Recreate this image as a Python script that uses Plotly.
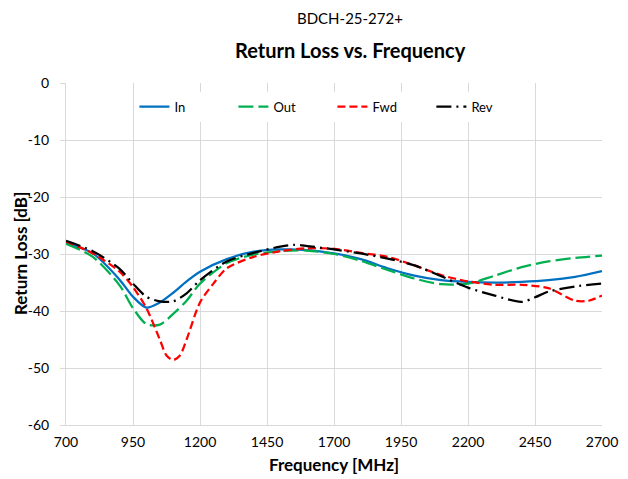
import plotly.graph_objects as go

# Frequency [MHz] and Return Loss [dB] per port
freq_in = [700, 800, 900, 950, 1000, 1050, 1100, 1150, 1200, 1300, 1400, 1500, 1600, 1700,
           1800, 1900, 2000, 2100, 2200, 2300, 2400, 2500, 2600, 2700]
rl_in = [-28.0, -29.9, -34.5, -37.5, -39.4, -38.5, -36.8, -34.8, -33.1, -30.9, -29.6, -29.2,
         -29.3, -29.9, -30.9, -32.5, -33.8, -34.6, -34.9, -35.0, -34.9, -34.6, -34.0, -33.0]

freq_out = [700, 800, 900, 950, 1000, 1050, 1100, 1150, 1200, 1300, 1400, 1500, 1600, 1700,
            1800, 1900, 2000, 2100, 2200, 2300, 2400, 2500, 2600, 2700]
rl_out = [-28.2, -30.5, -35.5, -39.5, -42.3, -42.4, -40.5, -38.2, -35.2, -31.6, -30.1, -29.5,
          -29.4, -30.0, -31.2, -32.8, -34.3, -35.3, -35.2, -33.8, -32.3, -31.3, -30.7, -30.3]

freq_fwd = [700, 800, 900, 950, 1000, 1050, 1075, 1100, 1125, 1150, 1200, 1250, 1300, 1400,
            1500, 1600, 1700, 1800, 1900, 2000, 2100, 2200, 2300, 2400, 2500, 2600, 2650, 2700]
rl_fwd = [-27.8, -29.9, -33.1, -35.8, -39.5, -45.0, -47.8, -48.6, -47.8, -45.0, -38.5, -35.2,
          -32.5, -30.5, -29.5, -29.0, -29.1, -29.8, -30.5, -32.0, -33.7, -34.8, -35.4, -35.4,
          -36.0, -38.2, -38.2, -37.3]

freq_rev = [700, 800, 900, 950, 1000, 1050, 1100, 1150, 1200, 1300, 1400, 1500, 1550, 1600,
            1700, 1800, 1900, 2000, 2100, 2200, 2300, 2400, 2450, 2500, 2600, 2700]
rl_rev = [-27.7, -29.5, -32.6, -35.2, -37.5, -38.3, -38.3, -36.9, -34.6, -31.3, -29.8, -28.7,
          -28.4, -28.6, -29.2, -29.9, -30.8, -32.0, -33.9, -35.9, -37.3, -38.4, -37.6, -36.6,
          -35.7, -35.2]

x_ticks = [700, 950, 1200, 1450, 1700, 1950, 2200, 2450, 2700]
y_ticks = [0, -10, -20, -30, -40, -50, -60]

FONT = "Lato"
fig = go.Figure()
series = [
    ("In", freq_in, rl_in, "#0070C0", "solid"),
    ("Out", freq_out, rl_out, "#00B050", "15px,5px"),
    ("Fwd", freq_fwd, rl_fwd, "#FF0000", "8px,4px"),
    ("Rev", freq_rev, rl_rev, "#000000", "15px,5px,2px,5px"),
]
for name, f, v, c, d in series:
    fig.add_trace(go.Scatter(x=f, y=v, name=name, mode="lines",
                             line=dict(color=c, width=2.25, dash=d, shape="spline", smoothing=0.8)))

fig.update_layout(
    width=628, height=479,
    margin=dict(l=66, r=26, t=83, b=54),
    paper_bgcolor="white", plot_bgcolor="white",
    font=dict(family=FONT, size=13, color="#000000"),
    showlegend=True,
    legend=dict(orientation="h", x=0.497, xanchor="center", y=0.975, yanchor="top",
                bgcolor="white", font=dict(size=13, family=FONT),
                entrywidth=54, entrywidthmode="pixels", itemwidth=30,
                traceorder="normal"),
)
fig.add_annotation(text="BDCH-25-272+", xref="paper", yref="paper", x=0.53, y=1,
                   yanchor="middle", yshift=65, showarrow=False, font=dict(size=15, family=FONT))
fig.add_annotation(text="<b>Return Loss vs. Frequency</b>", xref="paper", yref="paper", x=0.53, y=1,
                   yanchor="middle", yshift=33, showarrow=False, font=dict(size=20, family=FONT))
fig.add_annotation(text="<b>Return Loss [dB]</b>", xref="paper", yref="paper", x=0, y=0.5,
                   xanchor="center", yanchor="middle", xshift=-46, textangle=-90,
                   showarrow=False, font=dict(size=17, family=FONT))

fig.update_xaxes(range=[700, 2700], tickvals=x_ticks, ticktext=[str(t) for t in x_ticks],
                 automargin=False, ticklabelstandoff=4,
                 showgrid=True, gridcolor="#D9D9D9", gridwidth=1, zeroline=False,
                 showline=True, linecolor="#D9D9D9", ticks="", mirror=False,
                 title=dict(text="<b>Frequency [MHz]</b>", font=dict(size=17, family=FONT), standoff=10),
                 tickfont=dict(size=14, color="#000000"))
fig.update_yaxes(range=[-60, 0], tickvals=y_ticks, ticktext=[str(t) for t in y_ticks],
                 automargin=False, ticklabelstandoff=8,
                 showgrid=True, gridcolor="#D9D9D9", gridwidth=1, zeroline=False,
                 showline=True, linecolor="#D9D9D9", ticks="outside", ticklen=5, tickcolor="#D9D9D9",
                 tickfont=dict(size=14, color="#000000"))

fig.write_html("out.html", post_script="document.body.style.margin='0';",
               config={"displayModeBar": False})
